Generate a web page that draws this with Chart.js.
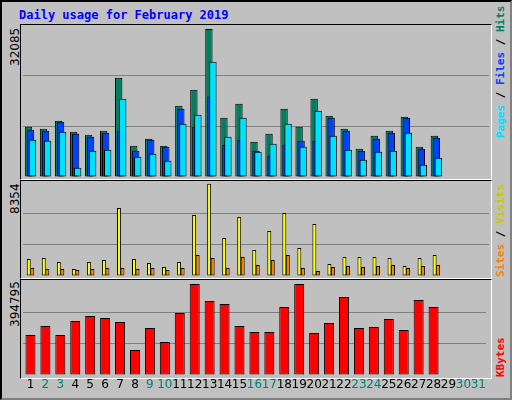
<!DOCTYPE html>
<html><head><meta charset="utf-8">
<script src="https://cdn.jsdelivr.net/npm/chart.js@4"></script>
<style>
body{margin:0;width:512px;height:400px;overflow:hidden;background:#fff}
#frame{position:absolute;left:0;top:0;width:508px;height:396px;background:#C0C0C0;border:2px solid;border-color:#000 #808080 #808080 #000;box-sizing:content-box}
.panel{position:absolute;border:1px solid;border-color:#000 #fff #fff #000;box-sizing:border-box}
canvas{position:absolute}
.v{position:absolute;writing-mode:vertical-rl;transform:rotate(180deg);white-space:nowrap}
.side{font:bold 11px "DejaVu Sans Mono",monospace}
.max{font:12px "DejaVu Sans",sans-serif;color:#000;text-align:end}
#title{position:absolute;left:19px;top:8px;font:bold 12px "DejaVu Sans Mono",monospace;color:#0000FF}
</style></head><body>
<div id="frame"></div>
<div id="title">Daily usage for February 2019</div>
<div class="panel" style="left:20px;top:24px;width:472px;height:156px"></div>
<div class="panel" style="left:20px;top:180px;width:472px;height:99px"></div>
<div class="panel" style="left:20px;top:279px;width:472px;height:100px"></div>
<div class="v max" style="left:8px;top:28px;height:60px">32085</div>
<div class="v max" style="left:8px;top:183px;height:60px">8354</div>
<div class="v max" style="left:8px;top:281px;height:60px">394795</div>
<div class="v side" style="left:494px;top:27px;height:111px;text-align:start"><span style="color:#00E0FF">Pages</span> / <span style="color:#0040FF">Files</span> / <span style="color:#007F5F">Hits</span></div>
<div class="v side" style="left:494px;top:198px;height:79px;text-align:start"><span style="color:#FF8000">Sites</span> / <span style="color:#C8C800">Visits</span></div>
<div class="v side" style="left:494px;top:330px;height:47px;text-align:start"><span style="color:#FF0000">KBytes</span></div>
<canvas id="c1" style="left:23px;top:25px;width:466px;height:152px"></canvas>
<canvas id="c2" style="left:23px;top:182px;width:466px;height:94px"></canvas>
<canvas id="c3" style="left:23px;top:281px;width:466px;height:116px"></canvas>
<script>
const days = ['1','2','3','4','5','6','7','8','9','10','11','12','13','14','15','16','17','18','19','20','21','22','23','24','25','26','27','28','29','30','31'];
const weekend = [2,3,9,10,16,17,23,24,30,31];
const hits = [10905,10471,12206,9821,9171,10038,21528,6786,8303,6786,15458,18926,32085,12856,15891,7653,9387,14807,10905,16975,13290,10471,6135,8954,10038,13073,6569,8954,null,null,null];
const files = [10255,10038,11989,9387,8737,9604,10038,5702,8087,6569,14807,10905,17409,7003,8087,5702,4618,7003,7870,7870,12856,10038,5702,8303,9604,12856,6135,8520,null,null,null];
const pages = [8087,7870,9821,2016,5702,5919,16975,4401,5051,3534,11555,13507,24997,8737,12856,5485,7219,11555,6569,14374,8954,5919,3751,5485,5702,9604,2667,4184,null,null,null];
const visits = [1539,1629,1267,634,1267,1448,6154,1539,1177,815,1267,5521,8354,3439,5340,2353,4073,5702,2534,4706,1086,1720,1720,1720,1629,905,1629,1901,null,null,null];
const sites = [724,634,634,543,634,724,724,634,724,543,724,1901,1629,724,1720,996,1448,1901,724,453,815,905,815,905,996,724,905,996,null,null,null];
const kbytes = [173520,212562,173520,234252,255942,247266,229914,108450,203886,143154,268956,394795,321012,307998,212562,186534,186534,294984,394795,182196,225576,338364,203886,208224,242928,195210,325350,294984,null,null,null];
const maxes = [32950, 8510, 408000];

const forwardDraw = {id:'forwardDraw',beforeDatasetsDraw(chart){
  const metas = chart.getSortedVisibleDatasetMetas();
  for (const m of metas) m.controller.draw();
  return false;
}};
function yScale(max){
  return {min:0,max:max,display:true,
    afterFit:s=>{s.width=0;},
    ticks:{display:false,stepSize:max/3},
    border:{display:false},
    grid:{drawTicks:false,lineWidth:1,color:c=>(c.index===1||c.index===2)?'#808080':'rgba(0,0,0,0)'}};
}
function xScale(show){
  return {offset:true,display:show,grid:{display:false,drawTicks:false},border:{display:false},
    afterFit:s=>{s.height=show?22:0;},
    ticks:{display:show,maxRotation:0,autoSkip:false,padding:3,
      font:{family:'DejaVu Sans',size:12},
      color:c=>weekend.includes(c.index+1)?'#00806F':'#000'}};
}
function ds(label,data,color){return {label,data,backgroundColor:color,borderColor:'#000',borderWidth:1,borderSkipped:false};}
function opts(max,show,cat,bar){
  return {responsive:false,animation:false,devicePixelRatio:1,
    layout:{padding:0},
    datasets:{bar:{categoryPercentage:cat,barPercentage:bar}},
    plugins:{legend:{display:false},tooltip:{enabled:false}},
    scales:{x:xScale(show),y:yScale(max)}};
}
function mk(id,w,h,datasets,o){
  const c=document.getElementById(id);c.width=w;c.height=h;
  new Chart(c,{type:'bar',data:{labels:days,datasets},options:o,plugins:[forwardDraw]});
}
mk('c1',466,152,[ds('Hits',hits,'#007F5F'),ds('Files',files,'#0040FF'),ds('Pages',pages,'#00E0FF')],opts(maxes[0],false,0.4,3.67));
mk('c2',466,94,[ds('Visits',visits,'#FFFF00'),ds('Sites',sites,'#FF8000')],opts(maxes[1],false,0.47,1.12));
mk('c3',466,116,[ds('KBytes',kbytes,'#FF0000')],opts(maxes[2],true,1,0.67));
</script></body></html>
